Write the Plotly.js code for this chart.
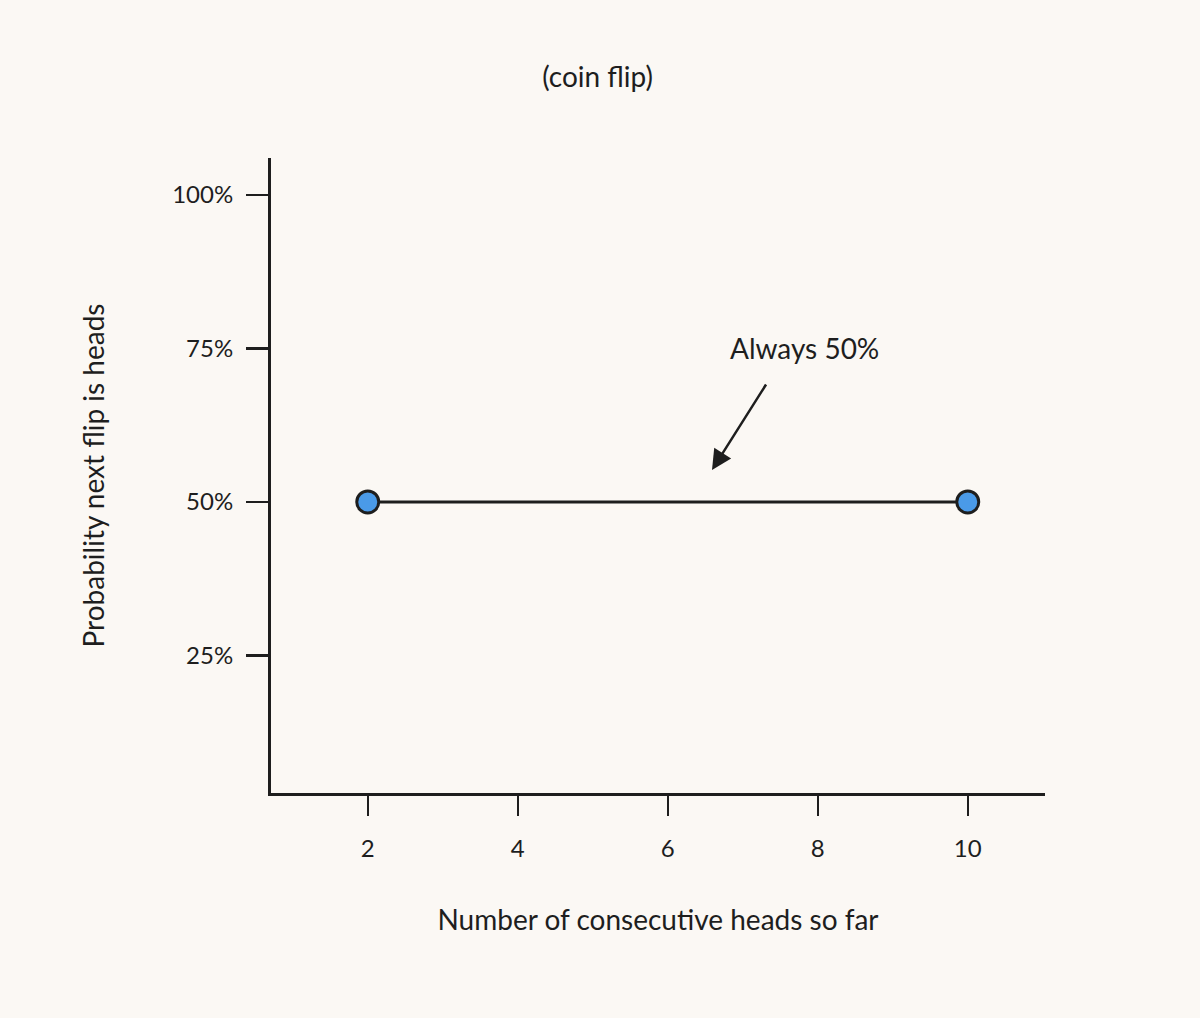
<!DOCTYPE html>
<html>
<head>
<meta charset="utf-8">
<script src="https://cdn.plot.ly/plotly-3.0.1.min.js"></script>
<style>
  body { margin: 0; background: #fbf8f4; }
  #chart { width: 1200px; height: 1018px; }
</style>
</head>
<body>
<div id="chart"></div>
<script>
// consecutive heads so far vs probability the next flip is heads
var headsSoFar = [2, 10];
var probHeads = [50, 50];
var yTicks = [25, 50, 75, 100];
var yTickText = ['25%', '50%', '75%', '100%'];
var xTicks = [2, 4, 6, 8, 10];

var ink = '#1e1e1e';
var font = 'Lato, "Open Sans", sans-serif';

var trace = {
    x: headsSoFar,
    y: probHeads,
    type: 'scatter',
    mode: 'lines+markers',
    line: { color: ink, width: 3 },
    marker: { size: 22, color: '#4a9ae8', line: { color: ink, width: 3 } },
    hoverinfo: 'skip'
};

var layout = {
    width: 1200,
    height: 1018,
    paper_bgcolor: '#fbf8f4',
    plot_bgcolor: '#fbf8f4',
    showlegend: false,
    margin: { l: 271, r: 155, t: 158, b: 225 },
    font: { family: font, color: ink, size: 22 },
    title: {
        text: '(coin flip)',
        x: 0.498, xanchor: 'center',
        y: 0.924, yanchor: 'middle',
        font: { family: font, size: 28, color: ink }
    },
    xaxis: {
        range: [0.71, 11.03],
        tickvals: xTicks,
        showline: true, linecolor: ink, linewidth: 3,
        ticks: 'outside', ticklen: 20, tickwidth: 2.5, tickcolor: ink,
        ticklabelstandoff: 12,
        showgrid: false, zeroline: false,
        tickfont: { size: 24 },
        title: { text: 'Number of consecutive heads so far', standoff: 50, font: { size: 28 } }
    },
    yaxis: {
        range: [2.6, 106],
        tickvals: yTicks,
        ticktext: yTickText,
        showline: true, linecolor: ink, linewidth: 3,
        ticks: 'outside', ticklen: 22, tickwidth: 2.5, tickcolor: ink,
        ticklabelstandoff: 8,
        showgrid: false, zeroline: false,
        tickfont: { size: 24 },
        title: { text: 'Probability next flip is heads', standoff: 60, font: { size: 28 } }
    },
    annotations: [
        {
            x: 6.59, y: 55.2, xref: 'x', yref: 'y',
            ax: 55, ay: -87,
            text: '',
            showarrow: true, arrowhead: 2, arrowsize: 1.6, arrowwidth: 2.5, arrowcolor: ink
        },
        {
            x: 7.82, y: 75.1, xref: 'x', yref: 'y',
            text: 'Always 50%',
            showarrow: false,
            font: { size: 28, color: ink }
        }
    ]
};

document.addEventListener('DOMContentLoaded', function() {
    Plotly.newPlot('chart', [trace], layout, { displayModeBar: false, staticPlot: true });
});
</script>
</body>
</html>
